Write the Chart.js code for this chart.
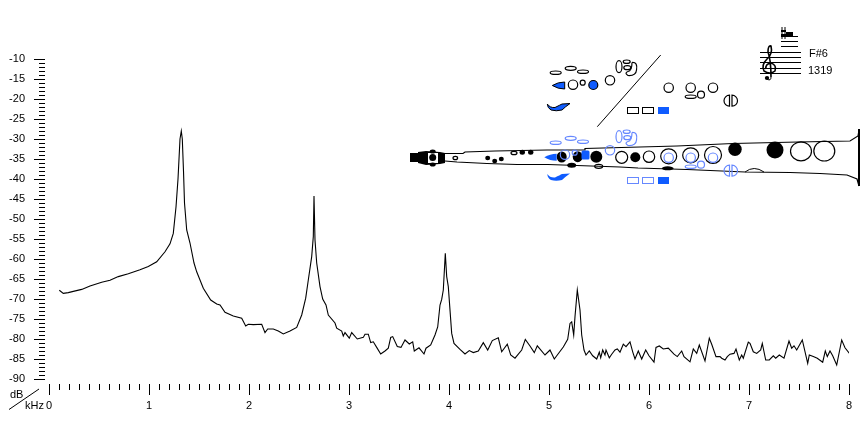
<!DOCTYPE html>
<html>
<head>
<meta charset="utf-8">
<title>Spectrum</title>
<script src="https://cdn.jsdelivr.net/npm/chart.js@4"></script>
<style>
  html, body { margin: 0; padding: 0; background: #fff; }
  canvas { display: block; }
</style>
</head>
<body>
<canvas id="myChart" width="860" height="425"></canvas>
<script>
// values
const freqs = [
  0.103, 0.143, 0.193, 0.243, 0.327, 0.41, 0.527, 0.61, 0.693, 0.793, 0.91, 0.993, 1.077, 1.16, 1.21, 1.243,
  1.27, 1.29, 1.31, 1.323, 1.333, 1.345, 1.355, 1.377, 1.41, 1.45, 1.477, 1.543, 1.617, 1.677, 1.71, 1.76,
  1.843, 1.927, 1.967, 1.993, 2.043, 2.127, 2.16, 2.187, 2.243, 2.293, 2.343, 2.41, 2.477, 2.527, 2.567, 2.593,
  2.627, 2.643, 2.65, 2.66, 2.677, 2.71, 2.737, 2.77, 2.793, 2.86, 2.877, 2.927, 2.943, 2.96, 3.003, 3.027,
  3.083, 3.143, 3.16, 3.193, 3.217, 3.243, 3.277, 3.317, 3.36, 3.393, 3.417, 3.437, 3.483, 3.52, 3.56, 3.603,
  3.637, 3.653, 3.7, 3.75, 3.77, 3.817, 3.86, 3.887, 3.91, 3.927, 3.943, 3.963, 3.977, 3.993, 4.027, 4.05,
  4.11, 4.16, 4.203, 4.243, 4.293, 4.343, 4.387, 4.433, 4.493, 4.527, 4.583, 4.617, 4.66, 4.727, 4.763, 4.81,
  4.853, 4.883, 4.96, 5.01, 5.053, 5.143, 5.187, 5.21, 5.227, 5.247, 5.26, 5.283, 5.31, 5.327,
  5.35, 5.37, 5.403, 5.437, 5.477, 5.503, 5.517, 5.537, 5.56, 5.57, 5.603, 5.627, 5.66, 5.683, 5.71, 5.743,
  5.77, 5.81, 5.837, 5.86, 5.893, 5.927, 5.967, 6, 6.05, 6.07, 6.103, 6.143, 6.193, 6.25, 6.283, 6.327,
  6.35, 6.41, 6.443, 6.477, 6.503, 6.56, 6.603, 6.627, 6.67, 6.71, 6.727, 6.76, 6.783, 6.81, 6.85, 6.87,
  6.903, 6.927, 6.943, 6.993, 7.01, 7.043, 7.077, 7.117, 7.133, 7.167, 7.203, 7.243, 7.267, 7.303, 7.35, 7.4,
  7.427, 7.45, 7.477, 7.533, 7.587, 7.603, 7.643, 7.683, 7.737, 7.763, 7.783, 7.81, 7.837, 7.877, 7.927, 7.96,
  8.01
];
const levels = [
  -67.8, -68.6, -68.4, -68.1, -67.6, -66.75, -65.8, -65.3, -64.4, -63.7, -62.7, -61.9, -60.7, -58.2, -56.2, -53.6,
  -47, -40, -30, -28, -30, -38, -46, -52.75, -56, -61, -63.2, -67.3, -70.25, -71.25, -71.5, -73.3,
  -74.25, -74.8, -76.75, -76.3, -76.4, -76.3, -78.4, -77.5, -77.5, -78, -78.75, -78, -77.1, -74, -69.8, -65.25,
  -59.4, -54.4, -44.25, -55.25, -61, -66.9, -70, -71.5, -74, -76, -77.3, -78, -79.25, -78.4, -79.8, -78.4,
  -80, -79.6, -78.8, -78.8, -80.9, -80.7, -82.1, -83.75, -83, -82.3, -79.6, -79.4, -81.9, -82.1, -80.25, -81.25,
  -80.7, -83, -82.2, -83.75, -82.3, -81.5, -79, -77, -71.5, -70.1, -67.75, -58.6, -64.4, -66.9, -78.6, -81.1,
  -82.6, -83.75, -82.9, -83.4, -83, -80.9, -82.75, -80.4, -79.7, -83.2, -81.3, -84, -84.8, -82.75, -80.1, -81.75,
  -83.4, -81.7, -84, -82.75, -85, -82, -80.1, -76.1, -75.7, -79, -74.4, -67.75, -72.75, -79,
  -82.75, -84, -83, -84.2, -85, -83.3, -84.7, -82.75, -84, -82.75, -84.7, -83.8, -82.75, -82.5, -83.3, -81.3,
  -81.9, -80.7, -83.2, -85, -83, -85, -82.75, -84.2, -85.8, -82.1, -81.75, -82.5, -82.3, -83.8, -84.4, -83,
  -84.4, -85.7, -82.5, -83.6, -81.5, -85.5, -79.8, -81.3, -84.4, -84.4, -84.8, -85.25, -84.4, -83.8, -83.6, -82.5,
  -85.25, -84, -84.8, -80.8, -81.1, -83.2, -83.6, -82.75, -81.1, -85.25, -85.25, -84.2, -84.8, -84, -84.8, -80.5,
  -82.3, -81.7, -82.75, -80.25, -86.1, -84, -84.4, -84.8, -85.8, -83, -84.4, -83, -84.2, -86.5, -80.25, -82.2,
  -83.8
];
const yTicksMajor = [-90, -85, -80, -75, -70, -65, -60, -55, -50, -45, -40, -35, -30, -25, -20, -15, -10];
const xTicksMajor = [0, 1, 2, 3, 4, 5, 6, 7, 8];

const black = "#000";
const blue = "#0f5cff";
const paleBlue = "#6688ff";

function ell(c, x, y, rx, ry, fill, stroke) {
  c.beginPath();
  c.ellipse(x, y, rx, ry, 0, 0, Math.PI * 2);
  if (fill) { c.fillStyle = fill; c.fill(); }
  if (stroke) { c.strokeStyle = stroke; c.lineWidth = 1.2; c.stroke(); }
}

function box(c, x, y, w, h, fill, stroke) {
  if (fill) { c.fillStyle = fill; c.fillRect(x, y, w, h); }
  if (stroke) { c.strokeStyle = stroke; c.lineWidth = 1; c.strokeRect(x + 0.5, y + 0.5, w - 1, h - 1); }
}

function poly(c, pts, close) {
  c.beginPath();
  pts.forEach((p, i) => (i ? c.lineTo(p[0], p[1]) : c.moveTo(p[0], p[1])));
  if (close) c.closePath();
}

// the key diagram, drawn once plain and once shifted over the body
function keys(c, dy, dx, line, solid) {
  ell(c, 555.7, 72.7 + dy, 5.5, 1.7, null, line);
  ell(c, 570.7, 68.3 + dy, 5.5, 2, null, line);
  ell(c, 583, 71.7 + dy, 5.5, 1.7, null, line);

  // left thumb teardrop
  const ty = dy ? 1.7 : 0;
  c.beginPath();
  c.moveTo(552.3 + dx, 85.5 + dy + ty);
  c.quadraticCurveTo(558 + dx, 82 + dy + ty, 564.7 + dx, 82 + dy + ty);
  c.lineTo(564.7 + dx, 89 + dy + ty);
  c.quadraticCurveTo(558 + dx, 89 + dy + ty, 552.3 + dx, 85.5 + dy + ty);
  c.closePath();
  c.fillStyle = blue;
  c.fill();
  if (!dy) { c.strokeStyle = black; c.lineWidth = 1; c.stroke(); }

  ell(c, 573 + dx, 84.7 + dy, 4.7, 4.7, null, line);
  ell(c, 582.7 + dx, 82.7 + dy, 2.5, 2.5, null, line);
  if (dy) {
    c.fillStyle = blue;
    c.beginPath();
    c.roundRect(581.5, 150.5, 8, 9, 1.5);
    c.fill();
  } else {
    ell(c, 593.3, 85, 4.5, 4.5, solid, line);
  }
  ell(c, 610, 80.3 + dy, 4.7, 4.7, null, line);

  // crescent
  c.beginPath();
  c.moveTo(547.3, 104 + dy);
  c.quadraticCurveTo(550, 108 + dy, 555, 107.5 + dy);
  c.quadraticCurveTo(560, 105 + dy, 562, 104 + dy);
  c.lineTo(570, 103.5 + dy);
  c.quadraticCurveTo(565, 107 + dy, 562, 110 + dy);
  c.quadraticCurveTo(556, 111.5 + dy, 551, 110 + dy);
  c.quadraticCurveTo(547.5, 108 + dy, 547.3, 104 + dy);
  c.closePath();
  c.fillStyle = blue;
  c.fill();
  if (!dy) { c.strokeStyle = black; c.lineWidth = 1; c.stroke(); }

  // cluster at the top
  ell(c, 619, 66.7 + dy, 3, 6, null, line);
  ell(c, 626.7, 61.7 + dy, 3.5, 1.7, null, line);
  ell(c, 627.3, 67.7 + dy, 3.5, 2, null, line);
  c.strokeStyle = line;
  c.lineWidth = 1.2;
  c.beginPath();
  c.moveTo(632, 62.5 + dy);
  c.quadraticCurveTo(638, 62 + dy, 636.5, 70 + dy);
  c.quadraticCurveTo(636, 76 + dy, 628, 75.5 + dy);
  c.quadraticCurveTo(624, 73 + dy, 628, 71.5 + dy);
  c.quadraticCurveTo(632, 71 + dy, 632, 62.5 + dy);
  c.stroke();

  box(c, 627, 107 + dy, 12, 7, null, line);
  box(c, 642, 107 + dy, 12, 7, null, line);
  box(c, 658, 107 + dy, 11, 7, solid);

  ell(c, 668.7, 87.7 + dy, 4.7, 4.7, null, line);
  ell(c, 690.7, 87.7 + dy, 4.7, 4.7, null, line);
  ell(c, 701, 94.7 + dy, 3.5, 3.5, null, line);
  ell(c, 713, 87.7 + dy, 4.7, 4.7, null, line);
  ell(c, 690.7, 96.7 + dy, 5.5, 1.7, null, line);

  // split hole
  c.strokeStyle = line;
  c.beginPath();
  c.arc(729.5, 100.7 + dy, 5.5, Math.PI / 2, Math.PI * 1.5);
  c.closePath();
  c.moveTo(732, 95.2 + dy);
  c.arc(732, 100.7 + dy, 5.5, -Math.PI / 2, Math.PI / 2);
  c.closePath();
  c.stroke();
}

function body(c) {
  // outline of the tube
  c.strokeStyle = black;
  c.lineWidth = 1.2;
  poly(c, [[445, 153.5], [463, 153.5], [465, 152], [495, 151], [547, 150], [585, 150], [585, 148.5], [640, 147],
    [677, 146], [733, 143.5], [798, 142], [850, 141], [858, 136], [859, 130]]);
  c.stroke();
  poly(c, [[445, 161], [457, 162], [487, 163.5], [517, 164.5], [548, 164.5], [620, 167], [638, 168], [687, 169.5],
    [745, 172], [790, 172.5], [820, 173.5], [847, 175], [857, 179], [859, 186]]);
  c.stroke();
  c.lineWidth = 2;
  poly(c, [[859, 129], [859, 186]]);
  c.stroke();

  // mouthpiece
  box(c, 410, 153, 8, 9, black);
  c.fillStyle = black;
  poly(c, [[418, 152], [426, 151], [440, 152], [445, 153], [445, 163], [440, 164], [426, 165], [418, 163]], true);
  c.fill();
  box(c, 428, 153, 10, 10, "#fff");
  ell(c, 432.7, 157.5, 3.5, 3.5, black);
  ell(c, 432.7, 151.5, 3, 2, black);
  ell(c, 432.7, 164.5, 3, 2, black);

  // tone holes
  ell(c, 455.3, 158, 2.3, 1.7, null, black);
  ell(c, 487.7, 158, 2.5, 2.3, black);
  ell(c, 494.7, 161, 2.5, 2.3, black);
  ell(c, 501.3, 159, 2.5, 2.3, black);
  ell(c, 514, 153, 3, 1.7, null, black);
  ell(c, 522.3, 152.3, 2.7, 2.5, black);
  ell(c, 530.7, 152.3, 2.7, 2.5, black);
  ell(c, 561.7, 157, 5, 5.5, black);
  ell(c, 577.7, 156.7, 5, 5.5, black);
  ell(c, 596.3, 156.7, 6, 6, black);
  ell(c, 621.7, 157.3, 6, 6, null, black);
  ell(c, 635.3, 157.3, 5, 5, black);
  ell(c, 649, 156.7, 5.7, 5.7, null, black);
  ell(c, 668.7, 156.3, 8, 7.5, null, black);
  ell(c, 690.7, 155.3, 8, 7.5, null, black);
  ell(c, 713, 155, 8.5, 8.5, null, black);
  ell(c, 735, 149.3, 6.7, 6.7, black);
  ell(c, 775, 150, 8.5, 8.5, black);
  ell(c, 801, 151.3, 10.5, 9.5, null, black);
  ell(c, 824.3, 151, 10.5, 10, null, black);

  ell(c, 571.7, 165.3, 4.5, 2.5, black);
  ell(c, 598.7, 166.3, 4, 2, null, black);
  ell(c, 667.7, 168.3, 6, 2, black);
  c.strokeStyle = black;
  c.lineWidth = 1;
  c.beginPath();
  c.moveTo(745, 172);
  c.quadraticCurveTo(754, 165, 764, 172);
  c.stroke();
}

function staff(c) {
  c.strokeStyle = black;
  c.lineWidth = 1;
  [52.5, 57.5, 62.5, 68.5, 73.5].forEach((y) => { poly(c, [[760, y], [801, y]]); c.stroke(); });
  [36.5, 41.5, 46.5].forEach((y) => { poly(c, [[781, y], [798, y]]); c.stroke(); });
  box(c, 786, 32, 7, 4, black);

  // sharp
  poly(c, [[782, 27], [782, 39]]); c.stroke();
  poly(c, [[785, 27], [785, 39]]); c.stroke();
  box(c, 781, 30, 5, 2, black);
  box(c, 781, 34, 5, 2, black);

  // treble clef
  c.lineWidth = 1.6;
  c.beginPath();
  c.moveTo(771, 77);
  c.quadraticCurveTo(771, 60, 768, 52);
  c.quadraticCurveTo(768, 45, 771, 46);
  c.quadraticCurveTo(773, 54, 767, 59);
  c.quadraticCurveTo(761, 65, 764, 71);
  c.quadraticCurveTo(770, 75, 775, 71);
  c.quadraticCurveTo(777, 65, 771, 63);
  c.quadraticCurveTo(765, 64, 766, 69);
  c.stroke();
  ell(c, 767, 78, 2.2, 2, black);
  c.lineWidth = 1;
  c.beginPath();
  c.moveTo(767, 79);
  c.quadraticCurveTo(771, 81.5, 771, 77);
  c.stroke();
}

const drawing = {
  id: "drawing",
  afterDraw(chart) {
    const c = chart.ctx;
    const xs = chart.scales.x;
    const ys = chart.scales.y;
    c.save();

    // ticks sit off the plot area, so they are drawn here through the scales
    c.strokeStyle = black;
    c.lineWidth = 1;
    for (let i = 0; i <= 80; i++) {
      const y = Math.round(ys.getPixelForValue(ys.min + i)) + 0.5;
      poly(c, [[i % 5 === 0 ? 34 : 39, y], [45, y]]);
      c.stroke();
      const x = Math.round(xs.getPixelForValue(xs.min + i / 10)) + 0.5;
      poly(c, [[x, 384], [x, i % 10 === 0 ? 395 : 390]]);
      c.stroke();
    }

    // axis corner
    poly(c, [[9, 409.5], [39, 389]]);
    c.stroke();
    c.fillStyle = black;
    c.font = "11px 'Liberation Sans'";
    c.textBaseline = "middle";
    c.textAlign = "left";
    c.fillText("dB", 10, 395);
    c.fillText("kHz", 25, 406);
    c.fillText("F#6", 809, 54);
    c.fillText("1319", 808, 70.5);

    // instrument
    poly(c, [[597.3, 126.7], [660.7, 55]]);
    c.stroke();
    body(c);
    keys(c, 0, 0, black, blue);
    keys(c, 70, -8, paleBlue, blue);
    staff(c);
    c.restore();
  },
};

new Chart(document.getElementById("myChart"), {
  type: "line",
  data: {
    datasets: [
      {
        data: freqs.map((f, i) => ({ x: f, y: levels[i] })),
        borderColor: black,
        borderWidth: 1.1,
        pointRadius: 0,
        tension: 0,
      },
    ],
  },
  plugins: [drawing],
  options: {
    responsive: false,
    animation: false,
    layout: { padding: { top: 59, right: 11, left: 0, bottom: 0 } },
    plugins: { legend: { display: false }, tooltip: { enabled: false } },
    scales: {
      x: {
        type: "linear",
        min: 0,
        max: 8,
        afterFit: (s) => { s.height = 46; s.paddingLeft = 0; s.paddingRight = 0; },
        afterBuildTicks: (s) => { s.ticks = xTicksMajor.map((v) => ({ value: v })); },
        border: { display: false },
        grid: { display: false, drawTicks: false },
        ticks: {
          color: black,
          font: { family: "'Liberation Sans'", size: 11 },
          padding: 20,
          maxRotation: 0,
          autoSkip: false,
        },
      },
      y: {
        min: -90,
        max: -10,
        afterFit: (s) => { s.width = 49; },
        afterBuildTicks: (s) => { s.ticks = yTicksMajor.map((v) => ({ value: v })); },
        border: { display: false },
        grid: { display: false, drawTicks: false },
        ticks: {
          color: black,
          font: { family: "'Liberation Sans'", size: 11 },
          padding: 24,
          autoSkip: false,
        },
      },
    },
  },
});
</script>
</body>
</html>
